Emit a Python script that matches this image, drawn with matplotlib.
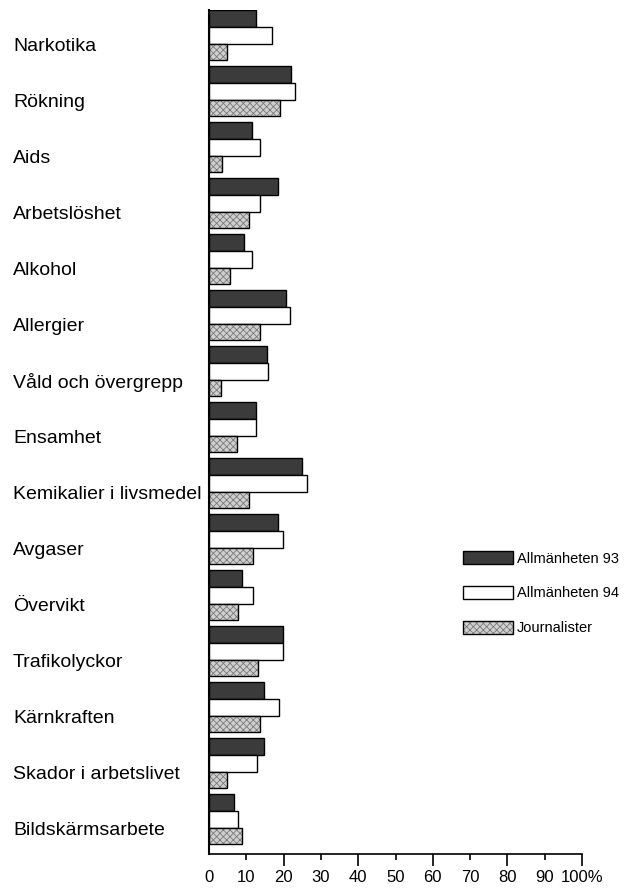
import numpy as np
import matplotlib
matplotlib.use("Agg")
from matplotlib import pyplot as plt
from matplotlib.patches import Patch
import matplotlib.transforms as mtransforms

plt.rcParams['font.family'] = ['Liberation Sans', 'DejaVu Sans']
plt.rcParams['hatch.linewidth'] = 0.6

# --- data (percent) ---
categories = ["Narkotika", "Rökning", "Aids", "Arbetslöshet", "Alkohol",
              "Allergier", "Våld och övergrepp", "Ensamhet",
              "Kemikalier i livsmedel", "Avgaser", "Övervikt",
              "Trafikolyckor", "Kärnkraften", "Skador i arbetslivet",
              "Bildskärmsarbete"]
allm93 = [12.6, 22.0, 11.5, 18.5, 9.4, 20.6, 15.5, 12.6, 25.0, 18.5, 8.8, 19.8, 14.7, 14.7, 6.7]
allm94 = [17.0, 23.0, 13.7, 13.7, 11.5, 21.7, 15.8, 12.6, 26.3, 19.8, 11.8, 19.8, 18.8, 12.9, 7.8]
journ = [4.8, 19.0, 3.5, 10.7, 5.6, 13.7, 3.2, 7.5, 10.7, 11.8, 7.8, 13.1, 13.7, 4.8, 8.8]

tick_vals = [0, 10, 20, 30, 40, 50, 60, 70, 80, 90, 100]
tick_labels = ["0", "10", "20", "30", "40", "50", "60", "70", "80", "90", "100%"]

W, H = 628, 890
fig = plt.figure(figsize=(W / 100, H / 100), dpi=100)
ax = fig.add_axes([209 / W, 1 - 854 / H, 373 / W, (854 - 10) / H])

y = np.arange(len(categories))
h = 0.30
dark = '#3b3b3b'
light = '#cfcfcf'

ax.barh(y - h, allm93, height=h, color=dark, edgecolor='black', linewidth=1.0)
ax.barh(y, allm94, height=h, color='white', edgecolor='black', linewidth=1.0)
# hatched fill first (grey hatch), then black outline on top
ax.barh(y + h, journ, height=h, color=light, edgecolor='#7a7a7a', hatch='xxxxx', linewidth=0)
ax.barh(y + h, journ, height=h, fill=False, edgecolor='black', linewidth=1.0)

ax.set_xlim(0, 100)
ax.set_ylim(14.62, -0.45)

for s in ['top', 'right']:
    ax.spines[s].set_visible(False)
ax.spines['left'].set_linewidth(1.5)
ax.spines['bottom'].set_linewidth(1.2)

ax.set_yticks([])
major = tick_vals[::2]
minor = tick_vals[1::2]
ax.set_xticks(major)
ax.set_xticklabels(tick_labels[::2])
ax.set_xticks(minor, minor=True)
ax.set_xticklabels(tick_labels[1::2], minor=True)
ax.tick_params(axis='x', which='major', length=8.5, width=1.2, pad=3, labelsize=12)
ax.tick_params(axis='x', which='minor', length=4.3, width=1.2, pad=7.3, labelsize=12)
ax.xaxis.get_major_ticks()[0].tick1line.set_visible(False)

# category labels, left aligned near the figure edge
trans = mtransforms.blended_transform_factory(fig.transFigure, ax.transData)
for i, name in enumerate(categories):
    ax.text(13 / W, i + 0.2, name, transform=trans, ha='left', va='center',
            fontsize=14, clip_on=False)

handles = [
    Patch(facecolor=dark, edgecolor='black', linewidth=1.0),
    Patch(facecolor='white', edgecolor='black', linewidth=1.0),
    (Patch(facecolor=light, edgecolor='#7a7a7a', hatch='xxxxx', linewidth=0),
     Patch(fill=False, edgecolor='black', linewidth=1.0)),
]
fig.legend(handles, ["Allmänheten 93", "Allmänheten 94", "Journalister"],
           loc='upper left', bbox_to_anchor=(463 / W, 1 - 551 / H),
           frameon=False, fontsize=10.5, handlelength=3.4, handleheight=1.0,
           handletextpad=0.3, labelspacing=1.4, borderpad=0, borderaxespad=0)

fig.savefig("out.png", dpi=100)
